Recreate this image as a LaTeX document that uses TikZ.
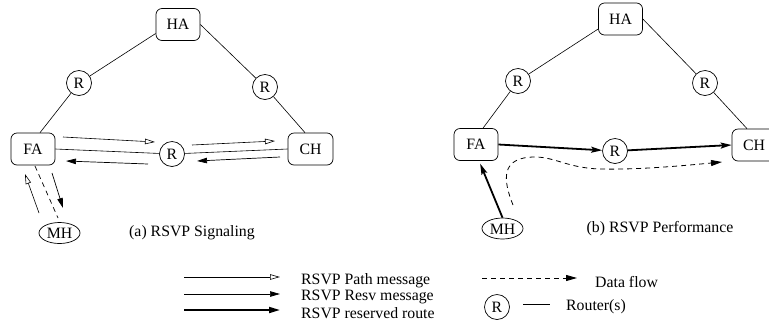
\documentclass[tikz,border=0pt]{standalone}
\usepackage{fontspec}
\setmainfont{Liberation Serif}
\usetikzlibrary{arrows.meta,shapes.geometric,calc}
\tikzset{
  every node/.style={font=\fontsize{15.8bp}{18bp}\selectfont},
  hostbox/.style={draw, rounded corners=6bp, minimum width=44bp, minimum height=32bp, inner sep=0pt, line width=0.7bp},
  router/.style={draw, circle, minimum size=25bp, inner sep=0pt, line width=0.7bp},
  mobile/.style={draw, ellipse, minimum width=41bp, minimum height=21bp, inner sep=0pt, text height=0pt, text depth=0pt, line width=0.7bp},
  link/.style={line width=0.6bp},
  pathmsg/.style={line width=0.6bp, -{Triangle[open, length=10bp, width=5.5bp]}},
  resvmsg/.style={line width=0.7bp, -{Triangle[length=10bp, width=5.5bp]}},
  resroute/.style={line width=1.8bp, -{Stealth[length=11bp, width=6bp, inset=2bp]}},
  flow/.style={line width=0.8bp, dash pattern=on 5bp off 4bp, -{Triangle[length=11bp, width=6bp]}},
  caption/.style={inner sep=0pt},
}
\begin{document}
\begin{tikzpicture}[x=1bp, y=-1bp]
\useasboundingbox (0,0) rectangle (769,325);

% ---------- (a) RSVP Signaling ----------
\node[hostbox] (ha1) at (178,24.5) {HA};
\node[router] (rl1) at (79,83) {R};
\node[router] (rr1) at (265,87) {R};
\node[hostbox] (fa1) at (33,149) {FA};
\node[router] (rm1) at (172,154) {R};
\node[hostbox, minimum width=45bp] (ch1) at (310.5,149) {CH};
\node[mobile] (mh1) at (59.5,233) {\raisebox{-5.5bp}{MH}};
\node[caption] (capa) at (192,233) {(a) RSVP Signaling};

\draw[link] ($(ha1.west)+(0,9)$) -- (rl1);
\draw[link] (ha1.east) -- (rr1);
\draw[link] (rl1) -- ($(fa1.north)+(7,0)$);
\draw[link] (rr1) -- ($(ch1.north)+(-5.5,0)$);
\draw[link] (fa1.east) -- (rm1) -- (ch1.west);

\coordinate (p1s) at (63,137);  \coordinate (p1e) at (155,142);
\coordinate (p2s) at (192,145); \coordinate (p2e) at (275,141);
\coordinate (r1s) at (148,164); \coordinate (r1e) at (66,161);
\coordinate (r2s) at (280,157); \coordinate (r2e) at (197,161);
\coordinate (mps) at (39,213);  \coordinate (mpe) at (25,174);
\coordinate (mrs) at (52,173);  \coordinate (mre) at (63,208);
\coordinate (mds) at (35,166);  \coordinate (mde) at (58,218);

\draw[pathmsg] (p1s) -- (p1e);
\draw[pathmsg] (p2s) -- (p2e);
\draw[resvmsg] (r1s) -- (r1e);
\draw[resvmsg] (r2s) -- (r2e);
\draw[pathmsg] (mps) -- (mpe);
\draw[resvmsg] (mrs) -- (mre);
\draw[line width=0.7bp, dash pattern=on 5bp off 4bp] (mds) -- (mde);

% ---------- (b) RSVP Performance ----------
\node[hostbox] (ha2) at (620.5,19) {HA};
\node[router] (rl2) at (518,81) {R};
\node[router] (rr2) at (705,83) {R};
\node[hostbox] (fa2) at (476,144.5) {FA};
\node[router] (rm2) at (615,151) {R};
\node[hostbox] (ch2) at (754,145) {CH};
\node[mobile] (mh2) at (502.5,228.5) {\raisebox{-5.5bp}{MH}};
\node[caption] (capb) at (660,229) {(b) RSVP Performance};

\draw[link] ($(ha2.west)+(0,10)$) -- (rl2);
\draw[link] (ha2.east) -- (rr2);
\draw[link] (rl2) -- ($(fa2.north)+(7,0)$);
\draw[link] (rr2) -- ($(ch2.north)+(-7,0)$);

\draw[resroute] (fa2.east) -- (rm2);
\draw[resroute] (rm2) -- (ch2.west);
\draw[resroute, shorten >=3bp] (mh2.north) -- ($(fa2.south)+(3,0)$);

\coordinate (dfs) at (513,205);
\coordinate (dfe) at (722,162);
\draw[flow] (dfs) .. controls (503,180) and (500,157) .. (535,157)
  .. controls (555,157) and (568,168) .. (600,169)
  .. controls (640,170) and (690,165) .. (dfe);

% ---------- legend ----------
\coordinate (l1s) at (184,277); \coordinate (l1e) at (280,277);
\coordinate (l2s) at (184,294); \coordinate (l2e) at (280,294);
\coordinate (l3s) at (184,310); \coordinate (l3e) at (280,310);
\draw[pathmsg] (l1s) -- (l1e);
\draw[resvmsg] (l2s) -- (l2e);
\draw[line width=1.8bp, -{Triangle[length=11bp, width=6bp]}] (l3s) -- (l3e);
\node[anchor=west, inner sep=0pt] (t1) at (301,281) {RSVP Path message};
\node[anchor=west, inner sep=0pt] (t2) at (301,297) {RSVP Resv message};
\node[anchor=west, inner sep=0pt] (t3) at (301,313) {RSVP reserved route};

\coordinate (l4s) at (482,278); \coordinate (l4e) at (577,278);
\draw[flow] (l4s) -- (l4e);
\node[anchor=west, inner sep=0pt] (t4) at (595,282) {Data flow};

\node[router] (lr) at (497,307) {R};
\coordinate (l5s) at (523,304); \coordinate (l5e) at (550,304);
\draw[link] (l5s) -- (l5e);
\node[anchor=west, inner sep=0pt] (t5) at (566,307) {Router(s)};
\end{tikzpicture}
\end{document}
